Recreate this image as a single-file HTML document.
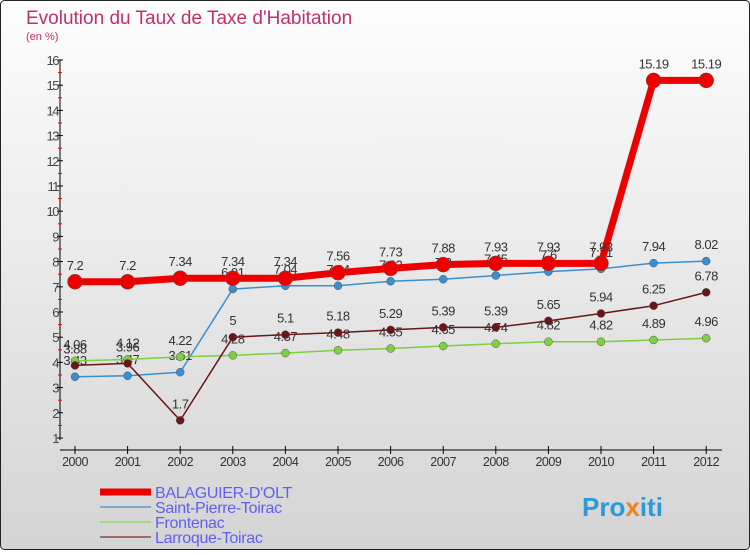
<!DOCTYPE html>
<html><head><meta charset="utf-8"><style>
body{margin:0;width:750px;height:550px;overflow:hidden;font-family:"Liberation Sans",sans-serif}
</style></head><body>
<svg width="750" height="550" xmlns="http://www.w3.org/2000/svg">
<defs><linearGradient id="bg" x1="0" y1="0" x2="0" y2="1"><stop offset="0" stop-color="#fdfdfd"/><stop offset="1" stop-color="#d4d4d4"/></linearGradient></defs>
<rect x="0.5" y="0.5" width="749" height="549" rx="4" fill="url(#bg)" stroke="#222"/>
<text x="26" y="24" font-size="19" fill="#c0306a">Evolution du Taux de Taxe d'Habitation</text>
<text x="26" y="40" font-size="11" fill="#c0306a">(en %)</text>
<g id="axes"></g><g id="series"></g><g id="legend"></g>
<text x="582" y="516" font-size="26" font-weight="bold" fill="#2a9ad8">Pro<tspan fill="#f08020">x</tspan>iti</text>
</svg>
<script>
const years=[2000,2001,2002,2003,2004,2005,2006,2007,2008,2009,2010,2011,2012];
const balaguier=[7.2,7.2,7.34,7.34,7.34,7.56,7.73,7.88,7.93,7.93,7.93,15.19,15.19];
const saintPierre=[3.43,3.47,3.61,6.91,7.04,7.04,7.22,7.3,7.45,7.6,7.71,7.94,8.02];
const frontenac=[4.06,4.12,4.22,4.28,4.37,4.48,4.55,4.65,4.74,4.82,4.82,4.89,4.96];
const larroque=[3.88,3.96,1.7,5,5.1,5.18,5.29,5.39,5.39,5.65,5.94,6.25,6.78];
const yTicks=[1,2,3,4,5,6,7,8,9,10,11,12,13,14,15,16];
const NS="http://www.w3.org/2000/svg";
const X=i=>75+i*52.6, Y=v=>438-(v-1)*25.2;
function mk(t,a,p){const e=document.createElementNS(NS,t);for(const k in a)e.setAttribute(k,a[k]);p.appendChild(e);return e;}
const ax=document.getElementById('axes');
let yl=mk('line',{x1:60,y1:60,x2:60,y2:440,stroke:'#000'},ax);


let xl=mk('line',{x1:60,y1:450,x2:722,y2:450,stroke:'#000'},ax);


yTicks.forEach(v=>{
 mk('line',{x1:57,y1:Y(v),x2:63,y2:Y(v),stroke:'#000'},ax);
 if(v<16)mk('line',{x1:58,y1:Y(v+0.5),x2:62,y2:Y(v+0.5),stroke:'#e00'},ax);
 const t=mk('text',{x:58,y:Y(v)+5,'font-size':13,'text-anchor':'end',fill:'#444','letter-spacing':'-1.5'},ax);
 t.textContent=v;
 
 
});
years.forEach((yr,i)=>{
 mk('line',{x1:X(i),y1:446,x2:X(i),y2:454,stroke:'#000'},ax);
 const t=mk('text',{x:X(i),y:466,'font-size':12.5,'text-anchor':'middle',fill:'#333','letter-spacing':'-0.5'},ax);
 t.textContent=yr;
 
 
});
const sg=document.getElementById('series');
function series(data,color,w,r,name){
 const g=mk('g',{},sg);
 
 
 mk('polyline',{points:data.map((v,i)=>X(i)+','+Y(v)).join(' '),fill:'none',stroke:color,'stroke-width':w,'stroke-linejoin':'round'},g);
 data.forEach((v,i)=>{
  const c=mk('circle',{cx:X(i),cy:Y(v),r:r,fill:color,stroke:'#555','stroke-width':0.5},g);
  
  
  const t=mk('text',{x:X(i),y:Y(v)-12,'font-size':13,'text-anchor':'middle',fill:'#333','letter-spacing':'-0.5'},g);
  t.textContent=v;
  
  
 });
}
series(saintPierre,'#3a8ed0',1.5,4,'series-saint-pierre-toirac');
series(frontenac,'#7ed040',1.5,4,'series-frontenac');
series(larroque,'#6a1518',1.5,4,'series-larroque-toirac');
series(balaguier,'#ee0000',7,7.5,'series-balaguier-dolt');
const lg=document.getElementById('legend');
[['BALAGUIER-D\'OLT','#ee0000',7],['Saint-Pierre-Toirac','#7aaad0',2],['Frontenac','#a0d880',2],['Larroque-Toirac','#a06a6a',2]].forEach((d,i)=>{
 const y=492+i*15;
 const g=mk('g',{},lg);
 
 
 mk('line',{x1:100,y1:y,x2:151,y2:y,stroke:d[1],'stroke-width':d[2]},g);
 const t=mk('text',{x:155,y:y+6,'font-size':16,fill:'#6060f0','letter-spacing':'-0.3'},g);
 t.textContent=d[0];
});
</script>
</body></html>
